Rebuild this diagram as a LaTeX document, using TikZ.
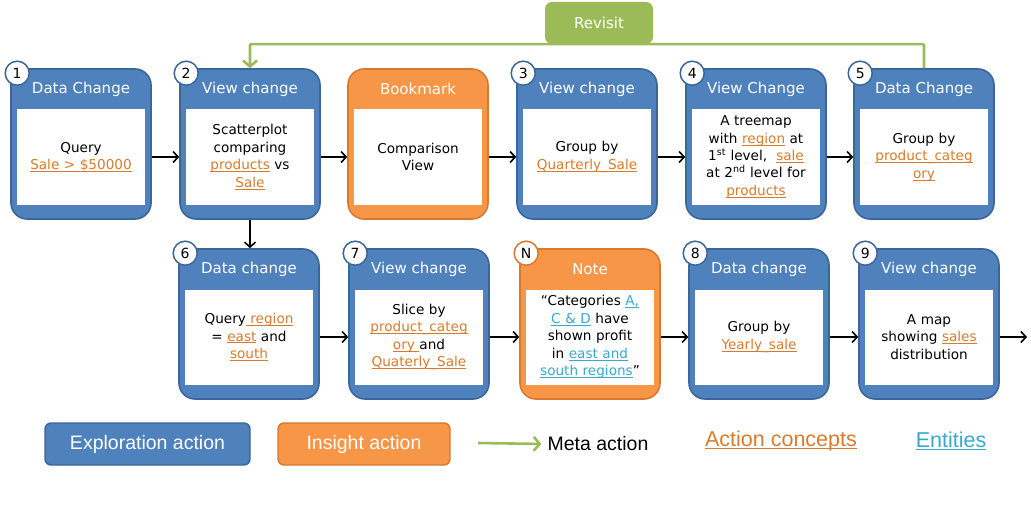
\documentclass[tikz,border=0pt]{standalone}
\usepackage{fontspec}
\setmainfont{DejaVu Sans}
\newfontfamily\legendfont{Liberation Sans}
\usetikzlibrary{arrows.meta,positioning}

\definecolor{exblue}{HTML}{4F81BD}
\definecolor{exline}{HTML}{3B6699}
\definecolor{inorange}{HTML}{F79646}
\definecolor{inline}{HTML}{D9782F}
\definecolor{metagreen}{HTML}{9BBB59}
\definecolor{conceptcol}{HTML}{D97B2B}
\definecolor{entitycol}{HTML}{37A9CF}

% underline set close to the baseline
\newcommand{\ulined}[1]{\leavevmode\setbox0\hbox{#1}\rlap{\rule[-2.2pt]{\wd0}{0.8pt}}\box0}
\newcommand{\concept}[1]{\leavevmode{\color{conceptcol}\ulined{#1}}}
\newcommand{\entity}[1]{\leavevmode{\color{entitycol}\ulined{#1}}}

% name, x, y, card style, tag colour, tag, title, body
\newcommand{\actcard}[8]{%
  \node[#4] (#1) at (#2,#3) {};
  \node[cardbody] (#1-body) at ([yshift=-13pt]#1.center) {#8};
  \node[cardhead] (#1-head) at ([yshift=-21pt]#1.north) {#7};
  \node[tag, draw=#5] (#1-tag) at ([xshift=7pt,yshift=-5pt]#1.north west) {#6};
}

\begin{document}
\begin{tikzpicture}[
  x=1pt, y=-1pt,
  card/.style={rounded corners=16pt, line width=1.6pt, inner sep=0pt,
               minimum width=140pt, minimum height=150pt},
  explore/.style={card, fill=exblue, draw=exline},
  insight/.style={card, fill=inorange, draw=inline},
  cardbody/.style={fill=white, inner sep=0pt, text width=128pt, align=center,
                   minimum height=95pt, font=\fontsize{13.6}{17.4}\selectfont},
  cardhead/.style={text=white, font=\fontsize{15}{18}\selectfont},
  tag/.style={circle, fill=white, line width=1.5pt, inner sep=0pt,
              minimum size=24pt, font=\fontsize{14}{16}\selectfont},
  flow/.style={line width=1.6pt, -{Straight Barb[length=5pt,width=11pt]}},
  meta/.style={metagreen, line width=2.6pt, -{Straight Barb[length=6pt,width=14pt]}},
  legbox/.style={rounded corners=6pt, line width=1.4pt, minimum height=42pt,
                 text=white, font=\legendfont\fontsize{19.5}{22}\selectfont},
  legtext/.style={inner sep=2pt, font=\legendfont\fontsize{19.5}{22}\selectfont},
]
  \useasboundingbox (0,0) rectangle (1031,508);

  % Top row of actions
  \actcard{b1}{81}{144}{explore}{exline}{1}{Data Change}
    {Query\\\concept{Sale > \$50000}}
  \actcard{b2}{250}{144}{explore}{exline}{2}{View change}
    {Scatterplot\\comparing\\\concept{products} vs\\\concept{Sale}}
  \node[insight] (bm) at (418,144) {};
  \node[cardbody] (bm-body) at ([yshift=-13pt]bm.center) {Comparison\\View};
  \node[cardhead] (bm-head) at ([yshift=-21pt]bm.north) {Bookmark};
  \actcard{b3}{587}{144}{explore}{exline}{3}{View change}
    {Group by\\\concept{Quarterly\_Sale}}
  \actcard{b4}{756}{144}{explore}{exline}{4}{View Change}
    {A treemap\\with \concept{region} at\\1\textsuperscript{st} level,\ \ \concept{sale}\\at 2\textsuperscript{nd} level for\\\concept{products}}
  \actcard{b5}{924}{144}{explore}{exline}{5}{Data Change}
    {Group by\\\concept{product\_categ}\\\concept{ory}}

  % Second row of actions
  \actcard{b6}{249}{324}{explore}{exline}{6}{Data change}
    {Query\concept{\ region}\\= \concept{east} and\\\concept{south}}
  \actcard{b7}{419}{324}{explore}{exline}{7}{View change}
    {Slice by\\\concept{product\_categ}\\\concept{ory\ }and\\\concept{Quaterly\_Sale}}
  \actcard{bn}{590}{324}{insight}{inline}{N}{Note}
    {``Categories \entity{A,}\\\entity{C \& D} have\\shown profit\\in \entity{east and}\\\entity{south regions}''}
  \actcard{b8}{759}{324}{explore}{exline}{8}{Data change}
    {Group by\\\concept{Yearly\_sale}}
  \actcard{b9}{929}{324}{explore}{exline}{9}{View change}
    {A map\\showing \concept{sales}\\distribution}

  % Flow between actions
  \foreach \a/\b in {b1/b2, b2/bm, bm/b3, b3/b4, b4/b5, b6/b7, b7/bn, bn/b8, b8/b9}
    \draw[flow] (\a.east |- \a-body.center) -- (\b.west |- \a-body.center);
  \draw[flow] (b2.south) -- (b2.south |- b6.north);
  \coordinate (out) at (1027,337);
  \draw[flow] (b9.east |- b9-body.center) -- (out);

  % Revisit (meta action)
  \node[fill=metagreen, rounded corners=7pt, minimum width=108pt, minimum height=42pt,
        text=white, font=\fontsize{15}{18}\selectfont] (rv) at (599,23) {Revisit};
  \draw[meta, rounded corners=1pt] (b5.north) |- (rv.south) -| (b2.north);

  % Legend
  \node[legbox, fill=exblue, draw=exline, minimum width=205pt] (lgex) at (147.5,444) {Exploration action};
  \node[legbox, fill=inorange, draw=inline, minimum width=172pt] (lgin) at (364,444) {Insight action};
  \node[legtext] (lgmeta) at (598,444) {Meta action};
  \coordinate (lgm0) at (478,443);
  \draw[meta, shorten >=4pt] (lgm0) -- (lgmeta.west);
  \node[legtext, text=conceptcol, font=\legendfont\fontsize{21.5}{24}\selectfont] (lgac) at (781,441) {\ulined{Action concepts}};
  \node[legtext, text=entitycol, font=\legendfont\fontsize{21.5}{24}\selectfont] (lgen) at (951,441) {\ulined{Entities}};
\end{tikzpicture}
\end{document}
